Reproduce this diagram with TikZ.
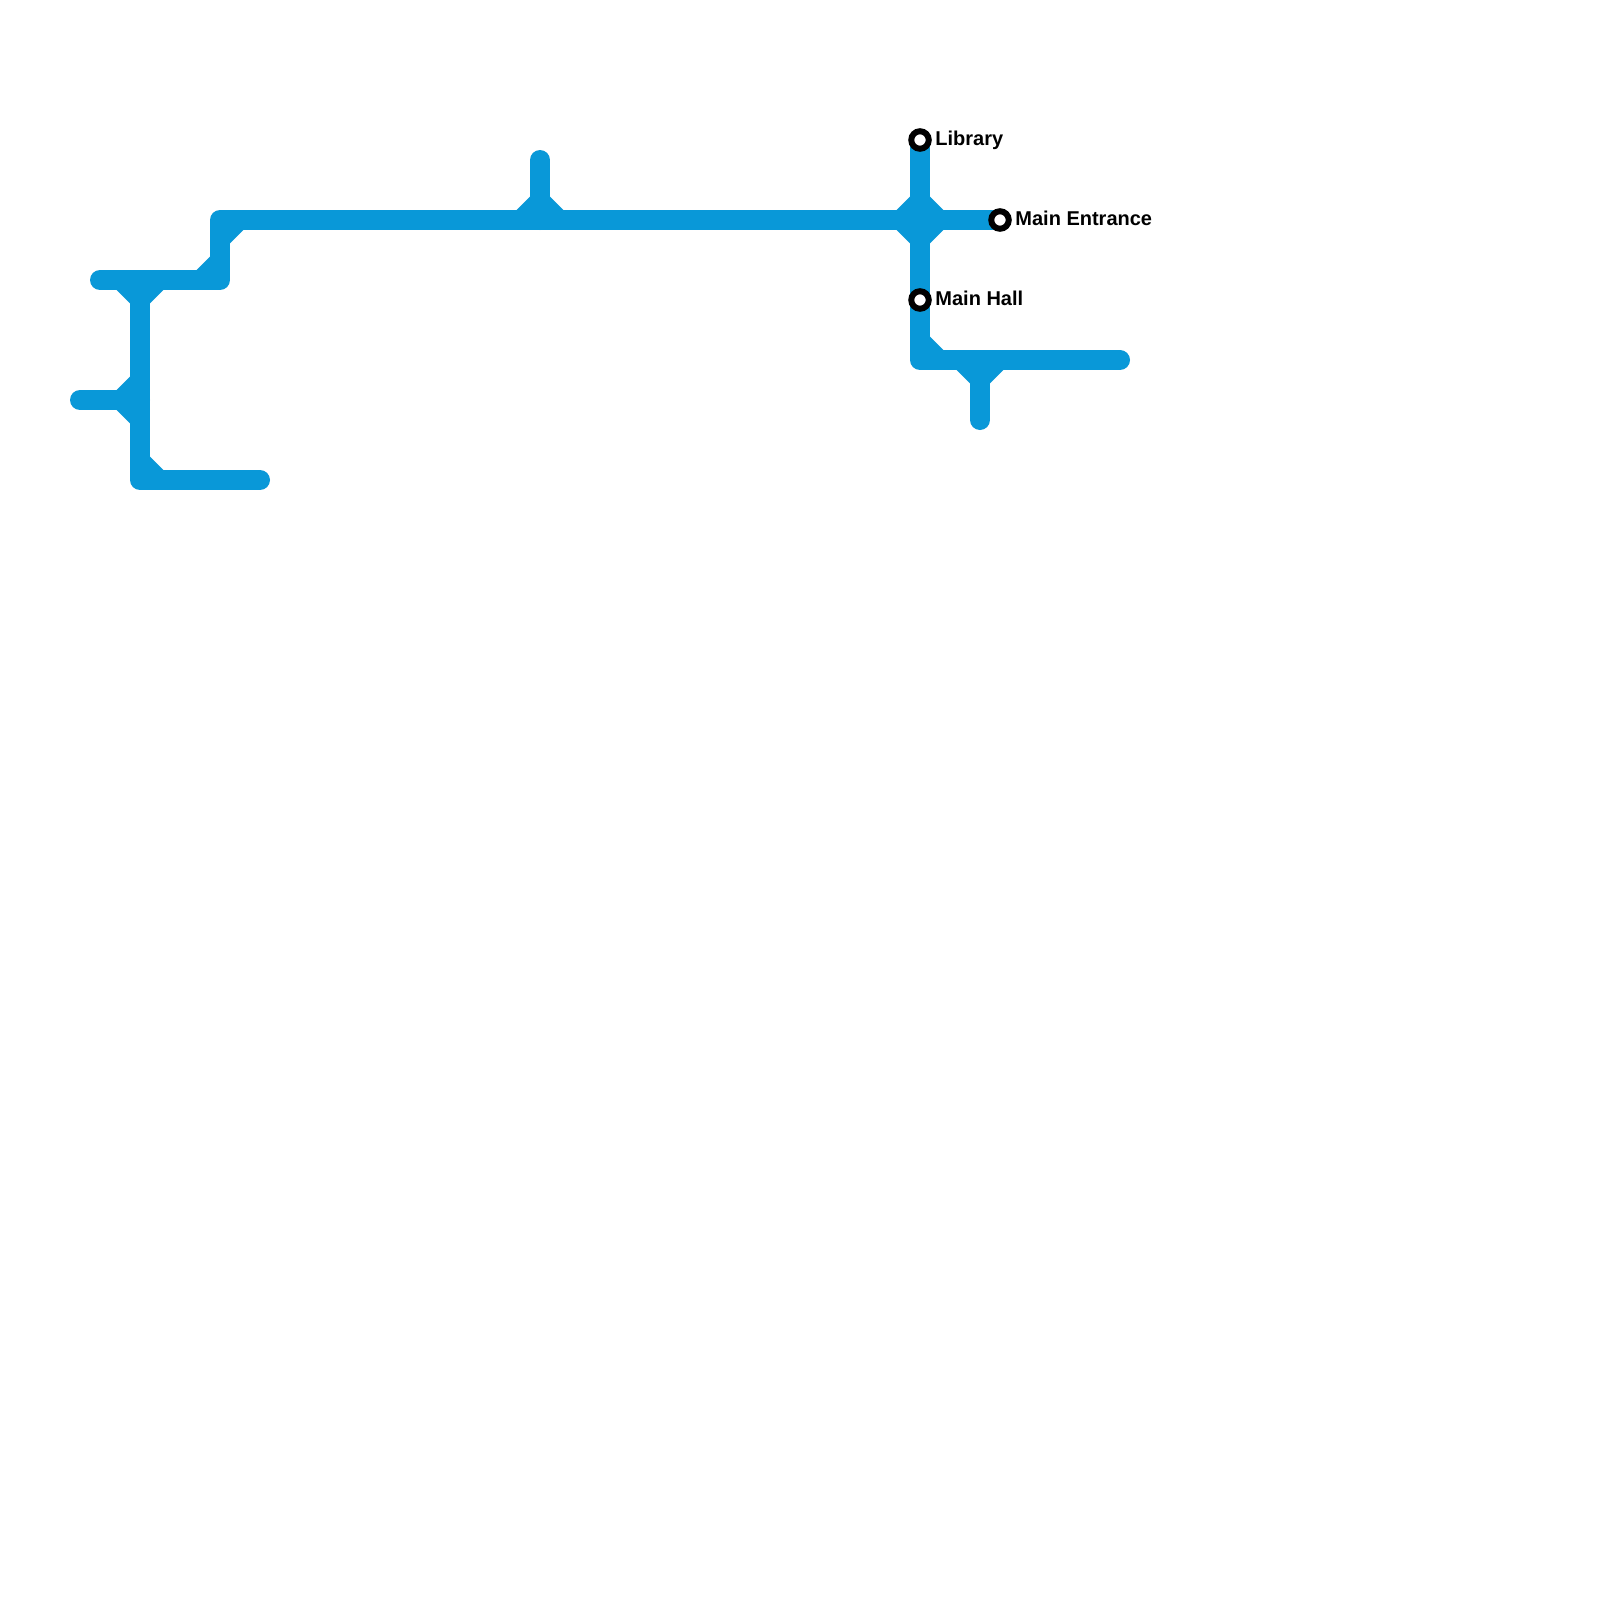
\documentclass[tikz,border=0pt]{standalone}
\usepackage{fontspec}
\setmainfont{Liberation Sans}
\definecolor{linecol}{RGB}{9,152,216}
\tikzset{
  metroline/.style={draw=linecol,line width=10pt,line cap=round,line join=round},
  station/.style={circle,draw=black,fill=white,line width=3pt,minimum size=8.75pt,inner sep=0pt},
  stationlabel/.style={anchor=base west,inner sep=0pt,font=\fontsize{10pt}{12pt}\selectfont\bfseries,text=black},
  filletshape/.style={fill=linecol}
}
\newcommand{\filletat}[4]{%
  \fill[filletshape] (#1+#3*9,#2+#4*9) -- (#1+#3*23.33,#2+#4*10) -- (#1+#3*10,#2+#4*23.33) -- cycle;}
\begin{document}
\begin{tikzpicture}[x=0.5pt,y=-0.5pt]
\useasboundingbox[fill=white] (0,0) rectangle (1600,1600);
% free ends and bends
\coordinate (wA) at (100,280);
\coordinate (bendA) at (220,280);
\coordinate (bendB) at (220,220);
\coordinate (topJ) at (540,220);
\coordinate (topEnd) at (540,160);
\coordinate (cross) at (920,220);
\coordinate (vTop) at (140,280);
\coordinate (vMid) at (140,400);
\coordinate (stubW) at (80,400);
\coordinate (bendC) at (140,480);
\coordinate (eastA) at (260,480);
\coordinate (bendD) at (920,360);
\coordinate (eastB) at (1120,360);
\coordinate (lowJ) at (980,360);
\coordinate (lowEnd) at (980,420);
% fillets
\filletat{140}{280}{-1}{1}
\filletat{140}{280}{1}{1}
\filletat{140}{400}{-1}{-1}
\filletat{140}{400}{-1}{1}
\filletat{220}{280}{-1}{-1}
\filletat{220}{220}{1}{1}
\filletat{140}{480}{1}{-1}
\filletat{540}{220}{-1}{-1}
\filletat{540}{220}{1}{-1}
\filletat{920}{220}{-1}{-1}
\filletat{920}{220}{1}{-1}
\filletat{920}{220}{-1}{1}
\filletat{920}{220}{1}{1}
\filletat{920}{360}{1}{-1}
\filletat{980}{360}{-1}{1}
\filletat{980}{360}{1}{1}
% station centres
\path (920,140) coordinate (libC) (1000,220) coordinate (entC) (920,300) coordinate (hallC);
% lines
\draw[metroline] (wA) -- (bendA) -- (bendB) -- (topJ) -- (cross) -- (entC);
\draw[metroline] (topEnd) -- (topJ);
\draw[metroline] (vTop) -- (bendC) -- (eastA);
\draw[metroline] (stubW) -- (vMid);
\draw[metroline] (libC) -- (cross) -- (hallC) -- (bendD) -- (eastB);
\draw[metroline] (lowJ) -- (lowEnd);
% stations
\node[station] (library) at (libC) {};
\node[station] (entrance) at (entC) {};
\node[station] (hall) at (hallC) {};
\node[stationlabel] (libraryText) at (935,145.5) {Library};
\node[stationlabel] (entranceText) at (1015,225.5) {Main Entrance};
\node[stationlabel] (hallText) at (935,305.5) {Main Hall};
\end{tikzpicture}
\end{document}
